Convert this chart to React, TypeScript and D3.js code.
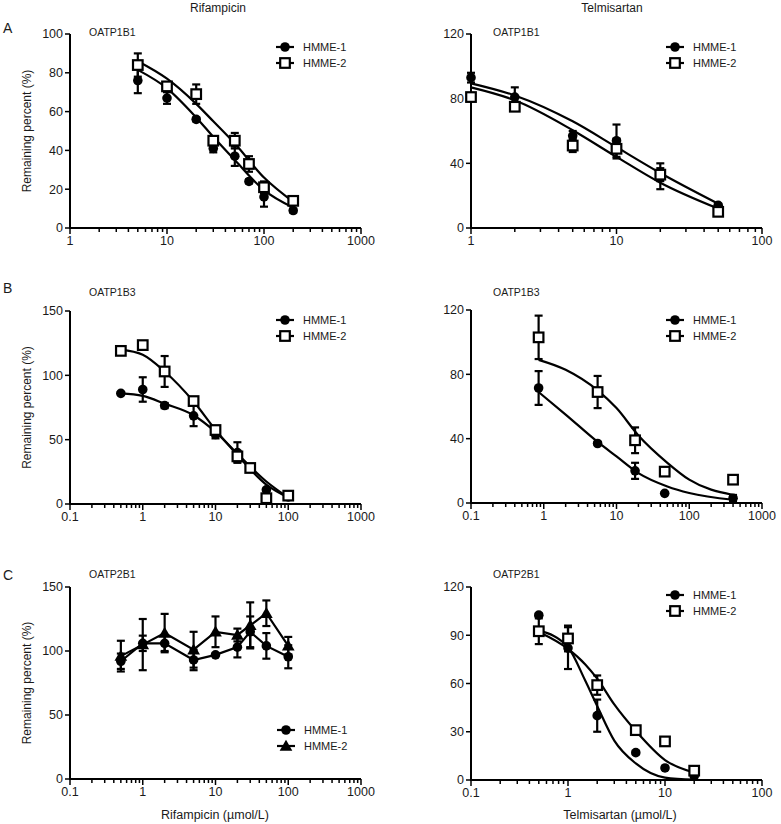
import React, { useEffect, useRef } from 'react';
import * as d3 from 'd3';

// ---- Rifampicin / OATP1B1 ----
const rifA_x = [5, 10, 20, 30, 50, 70, 100, 200];
const rifA_h1 = [76, 67, 56, 41, 37, 24, 16, 9];
const rifA_h1_err = [6.5, 3, 1, 2, 5, 1, 5, 1];
const rifA_h2 = [84, 73, 69, 45, 45, 33, 21, 14];
const rifA_h2_err = [6, 2, 5, 1, 4, 4, 3, 1];
const rifA_fitX = [5, 10, 20, 30, 50, 100, 200];
const rifA_fit1 = [81.5, 72, 57, 47, 35, 19.5, 10.5];
const rifA_fit2 = [86, 77, 64, 55, 43.5, 26, 13.5];

// ---- Telmisartan / OATP1B1 ----
const telA_x = [1, 2, 5, 10, 20, 50];
const telA_h1 = [93, 81, 57, 54, 32, 14];
const telA_h1_err = [3, 6, 3, 10, 8, 1];
const telA_h2 = [81, 75, 51, 49, 33, 10];
const telA_h2_err = [2, 2, 4, 6, 4, 1];
const telA_fitX = [1, 2, 5, 10, 20, 50];
const telA_fit1 = [89.5, 82, 66, 50, 34, 15];
const telA_fit2 = [87, 79, 60.5, 44, 28, 12];

// ---- Rifampicin / OATP1B3 ----
const rifB_x = [0.5, 1, 2, 5, 10, 20, 30, 50, 100];
const rifB_h1 = [86, 89, 76.5, 68.5, 54, 40, 28, 11, 5.5];
const rifB_h1_err = [1, 9.5, 2, 8, 3, 8, 1, 1, 1];
const rifB_h2 = [119, 123.5, 103, 80, 57.5, 37, 28, 4.5, 6.5];
const rifB_h2_err = [1, 3, 12, 2, 3, 4, 2, 3, 2];
const rifB_fitX = [0.5, 1, 2, 5, 10, 20, 50, 100];
const rifB_fit1 = [86, 84, 78, 69, 56, 39, 17.5, 5];
const rifB_fit2 = [120, 116, 103, 79.6, 57.6, 38, 15, 5];

// ---- Telmisartan / OATP1B3 ----
const telB_x = [0.85, 5.5, 18, 46, 400];
const telB_h1 = [71.5, 37, 20, 6, 3];
const telB_h1_err = [10.5, 1, 5, 0.5, 2];
const telB_h2 = [103, 69, 39, 19.5, 14.5];
const telB_h2_err = [13.5, 10, 8, 1, 1];
const telB_fitX = [0.85, 2, 5.5, 10, 20, 50, 100, 400];
const telB_fit1 = [69, 55, 38, 29, 18.6, 10.3, 6.2, 2];
const telB_fit2 = [89, 82.8, 70, 59, 42, 25, 14.5, 5];

// ---- Rifampicin / OATP2B1 (no fit, points joined) ----
const rifC_x = [0.5, 1, 2, 5, 10, 20, 30, 50, 100];
const rifC_h1 = [92, 106, 106, 93, 97, 103, 115, 104, 95.5];
const rifC_h1_err = [6, 6, 6, 8, 1, 8, 12, 10, 9];
const rifC_h2 = [96, 105, 114, 101, 115, 112.5, 120, 129.5, 104];
const rifC_h2_err = [12, 20, 15, 14, 12, 5, 18, 10, 7];

// ---- Telmisartan / OATP2B1 ----
const telC_x = [0.5, 1, 2, 5, 10, 20];
const telC_h1 = [102.5, 82, 40, 17, 7.5, 2.5];
const telC_h1_err = [1, 13, 10, 1, 1, 1];
const telC_h2 = [92.5, 88, 59, 31, 24, 5.8];
const telC_h2_err = [8, 8, 6, 2, 1, 1];
const telC_fitX = [0.5, 1, 1.5, 2, 3, 5, 10, 20];
const telC_fit1 = [93, 82.5, 62, 46, 24.5, 10.3, 1.5, 0.2];
const telC_fit2 = [92, 81.5, 72, 63, 47, 30.5, 12.4, 4.6];

const FONT = "'Liberation Sans', Arial, sans-serif";
const INK = '#1a1a1a';

type Marker = 'circle' | 'square' | 'triangle';
interface Series {
  name: string;
  x: number[];
  y: number[];
  err: number[];
  marker: Marker;
  fitX?: number[];
  fitY?: number[];
  joined?: boolean;
}
interface Panel {
  x0: number; x1: number; yTop: number; yBot: number;
  xDomain: [number, number]; yMax: number; yTicks: number[];
  name: string; nameX: number; nameY: number;
  legendX: number; legendY: number;
  series: Series[];
}

const panels: Panel[] = [
  {
    x0: 70, x1: 361, yTop: 34, yBot: 228, xDomain: [1, 1000], yMax: 100, yTicks: [0, 20, 40, 60, 80, 100],
    name: 'OATP1B1', nameX: 89, nameY: 36, legendX: 276, legendY: 47,
    series: [
      { name: 'HMME-1', x: rifA_x, y: rifA_h1, err: rifA_h1_err, marker: 'circle', fitX: rifA_fitX, fitY: rifA_fit1 },
      { name: 'HMME-2', x: rifA_x, y: rifA_h2, err: rifA_h2_err, marker: 'square', fitX: rifA_fitX, fitY: rifA_fit2 },
    ],
  },
  {
    x0: 471, x1: 762, yTop: 34, yBot: 228, xDomain: [1, 100], yMax: 120, yTicks: [0, 40, 80, 120],
    name: 'OATP1B1', nameX: 493, nameY: 36, legendX: 666, legendY: 47,
    series: [
      { name: 'HMME-1', x: telA_x, y: telA_h1, err: telA_h1_err, marker: 'circle', fitX: telA_fitX, fitY: telA_fit1 },
      { name: 'HMME-2', x: telA_x, y: telA_h2, err: telA_h2_err, marker: 'square', fitX: telA_fitX, fitY: telA_fit2 },
    ],
  },
  {
    x0: 70, x1: 361, yTop: 311, yBot: 504, xDomain: [0.1, 1000], yMax: 150, yTicks: [0, 50, 100, 150],
    name: 'OATP1B3', nameX: 89, nameY: 296, legendX: 276, legendY: 320,
    series: [
      { name: 'HMME-1', x: rifB_x, y: rifB_h1, err: rifB_h1_err, marker: 'circle', fitX: rifB_fitX, fitY: rifB_fit1 },
      { name: 'HMME-2', x: rifB_x, y: rifB_h2, err: rifB_h2_err, marker: 'square', fitX: rifB_fitX, fitY: rifB_fit2 },
    ],
  },
  {
    x0: 471, x1: 762, yTop: 310, yBot: 503, xDomain: [0.1, 1000], yMax: 120, yTicks: [0, 40, 80, 120],
    name: 'OATP1B3', nameX: 493, nameY: 296, legendX: 666, legendY: 320,
    series: [
      { name: 'HMME-1', x: telB_x, y: telB_h1, err: telB_h1_err, marker: 'circle', fitX: telB_fitX, fitY: telB_fit1 },
      { name: 'HMME-2', x: telB_x, y: telB_h2, err: telB_h2_err, marker: 'square', fitX: telB_fitX, fitY: telB_fit2 },
    ],
  },
  {
    x0: 70, x1: 361, yTop: 587, yBot: 779, xDomain: [0.1, 1000], yMax: 150, yTicks: [0, 50, 100, 150],
    name: 'OATP2B1', nameX: 89, nameY: 578, legendX: 277, legendY: 730,
    series: [
      { name: 'HMME-1', x: rifC_x, y: rifC_h1, err: rifC_h1_err, marker: 'circle', joined: true },
      { name: 'HMME-2', x: rifC_x, y: rifC_h2, err: rifC_h2_err, marker: 'triangle', joined: true },
    ],
  },
  {
    x0: 471, x1: 762, yTop: 587, yBot: 780, xDomain: [0.1, 100], yMax: 120, yTicks: [0, 30, 60, 90, 120],
    name: 'OATP2B1', nameX: 493, nameY: 578, legendX: 666, legendY: 595,
    series: [
      { name: 'HMME-1', x: telC_x, y: telC_h1, err: telC_h1_err, marker: 'circle', fitX: telC_fitX, fitY: telC_fit1 },
      { name: 'HMME-2', x: telC_x, y: telC_h2, err: telC_h2_err, marker: 'square', fitX: telC_fitX, fitY: telC_fit2 },
    ],
  },
];

const drawMarker = (g: any, marker: Marker, cx: number, cy: number) => {
  if (marker === 'circle') {
    g.append('circle').attr('cx', cx).attr('cy', cy).attr('r', 4.8).attr('fill', '#000');
  } else if (marker === 'square') {
    g.append('rect')
      .attr('x', cx - 4.8).attr('y', cy - 4.8).attr('width', 9.6).attr('height', 9.6)
      .attr('fill', '#fff').attr('stroke', '#000').attr('stroke-width', 2.2);
  } else {
    g.append('path')
      .attr('d', d3.symbol().type(d3.symbolTriangle).size(70)() as string)
      .attr('transform', `translate(${cx},${cy + 1})`)
      .attr('fill', '#000');
  }
};

const App: React.FC = () => {
  const svgRef = useRef<SVGSVGElement>(null);

  useEffect(() => {
    if (!svgRef.current) return;
    const svg = d3.select(svgRef.current);
    svg.selectAll('*').remove();

    panels.forEach((p) => {
      const g = svg.append('g');
      const xScale = d3.scaleLog().domain(p.xDomain).range([p.x0, p.x1]);
      const yScale = d3.scaleLinear().domain([0, p.yMax]).range([p.yBot, p.yTop]);

      // y axis
      g.append('line').attr('x1', p.x0).attr('x2', p.x0).attr('y1', p.yBot + 1).attr('y2', p.yTop)
        .attr('stroke', '#000').attr('stroke-width', 2);
      p.yTicks.forEach((t) => {
        g.append('line').attr('x1', p.x0 - 5).attr('x2', p.x0).attr('y1', yScale(t)).attr('y2', yScale(t))
          .attr('stroke', '#000').attr('stroke-width', 1.5);
        g.append('text').attr('x', p.x0 - 7).attr('y', yScale(t)).attr('dy', '0.35em')
          .attr('text-anchor', 'end').attr('font-size', 12.5).attr('font-family', FONT).attr('fill', INK)
          .text(String(t));
      });

      // x axis (log, with minor ticks)
      g.append('line').attr('x1', p.x0 - 1).attr('x2', p.x1).attr('y1', p.yBot).attr('y2', p.yBot)
        .attr('stroke', '#000').attr('stroke-width', 2);
      const d0 = Math.round(Math.log10(p.xDomain[0]));
      const d1 = Math.round(Math.log10(p.xDomain[1]));
      for (let d = d0; d <= d1; d++) {
        const v = Math.pow(10, d);
        g.append('line').attr('x1', xScale(v)).attr('x2', xScale(v)).attr('y1', p.yBot).attr('y2', p.yBot + 6)
          .attr('stroke', '#000').attr('stroke-width', 1.5);
        g.append('text').attr('x', xScale(v)).attr('y', p.yBot + 17)
          .attr('text-anchor', 'middle').attr('font-size', 12.5).attr('font-family', FONT).attr('fill', INK)
          .text(d < 0 ? v.toFixed(-d) : String(v));
        if (d < d1) {
          for (let k = 2; k <= 9; k++) {
            const mv = v * k;
            g.append('line').attr('x1', xScale(mv)).attr('x2', xScale(mv)).attr('y1', p.yBot).attr('y2', p.yBot + 4)
              .attr('stroke', '#000').attr('stroke-width', 1.5);
          }
        }
      }

      // fitted curves / joining lines
      p.series.forEach((s) => {
        if (s.fitX && s.fitY) {
          const pts: [number, number][] = s.fitX.map((x, i) => [xScale(x), yScale(s.fitY![i])]);
          g.append('path').attr('d', d3.line().curve(d3.curveMonotoneX)(pts) as string)
            .attr('fill', 'none').attr('stroke', '#000').attr('stroke-width', 2.2);
        }
        if (s.joined) {
          const pts: [number, number][] = s.x.map((x, i) => [xScale(x), yScale(s.y[i])]);
          g.append('path').attr('d', d3.line()(pts) as string)
            .attr('fill', 'none').attr('stroke', '#000').attr('stroke-width', 2.2);
        }
      });

      // error bars
      p.series.forEach((s) => {
        s.x.forEach((x, i) => {
          const cx = xScale(x);
          const top = yScale(s.y[i] + s.err[i]);
          const bot = yScale(Math.max(0, s.y[i] - s.err[i]));
          g.append('line').attr('x1', cx).attr('x2', cx).attr('y1', top).attr('y2', bot)
            .attr('stroke', '#000').attr('stroke-width', 2.2);
          [top, bot].forEach((yy) => {
            g.append('line').attr('x1', cx - 4).attr('x2', cx + 4).attr('y1', yy).attr('y2', yy)
              .attr('stroke', '#000').attr('stroke-width', 2.2);
          });
        });
      });

      // markers
      p.series.forEach((s) => {
        s.x.forEach((x, i) => drawMarker(g, s.marker, xScale(x), yScale(s.y[i])));
      });

      // panel name
      g.append('text').attr('x', p.nameX).attr('y', p.nameY)
        .attr('font-size', 10.5).attr('font-family', FONT).attr('fill', INK).text(p.name);

      // legend
      p.series.forEach((s, i) => {
        const ly = p.legendY + i * 16;
        g.append('line').attr('x1', p.legendX).attr('x2', p.legendX + 18).attr('y1', ly).attr('y2', ly)
          .attr('stroke', '#000').attr('stroke-width', 2.2);
        drawMarker(g, s.marker, p.legendX + 9, ly);
        g.append('text').attr('x', p.legendX + 27).attr('y', ly).attr('dy', '0.35em')
          .attr('font-size', 11).attr('font-family', FONT).attr('fill', INK).text(s.name);
      });

      // y label (left column only)
      if (p.x0 < 200) {
        const cy = (p.yTop + p.yBot) / 2;
        g.append('text').attr('transform', `translate(27,${cy}) rotate(-90)`).attr('dy', '0.35em')
          .attr('text-anchor', 'middle').attr('font-size', 12).attr('font-family', FONT).attr('fill', INK)
          .text('Remaining percent (%)');
      }
    });

    // column headers, row letters, x titles
    const header = [
      { t: 'Rifampicin', x: 218 },
      { t: 'Telmisartan', x: 612 },
    ];
    header.forEach((h) => {
      svg.append('text').attr('x', h.x).attr('y', 12).attr('text-anchor', 'middle')
        .attr('font-size', 12).attr('font-family', FONT).attr('fill', INK).text(h.t);
    });
    const letters = [
      { t: 'A', y: 33 },
      { t: 'B', y: 293 },
      { t: 'C', y: 580 },
    ];
    letters.forEach((l) => {
      svg.append('text').attr('x', 3).attr('y', l.y)
        .attr('font-size', 14).attr('font-family', FONT).attr('fill', INK).text(l.t);
    });
    const xTitles = [
      { t: 'Rifampicin (µmol/L)', x: 215 },
      { t: 'Telmisartan (µmol/L)', x: 620 },
    ];
    xTitles.forEach((h) => {
      svg.append('text').attr('x', h.x).attr('y', 819).attr('text-anchor', 'middle')
        .attr('font-size', 12.5).attr('font-family', FONT).attr('fill', INK).text(h.t);
    });
  }, []);

  return (
    <svg
      ref={svgRef}
      width={781}
      height={824}
      style={{ position: 'absolute', left: 0, top: 0, background: '#fff' }}
    />
  );
};

export default App;
